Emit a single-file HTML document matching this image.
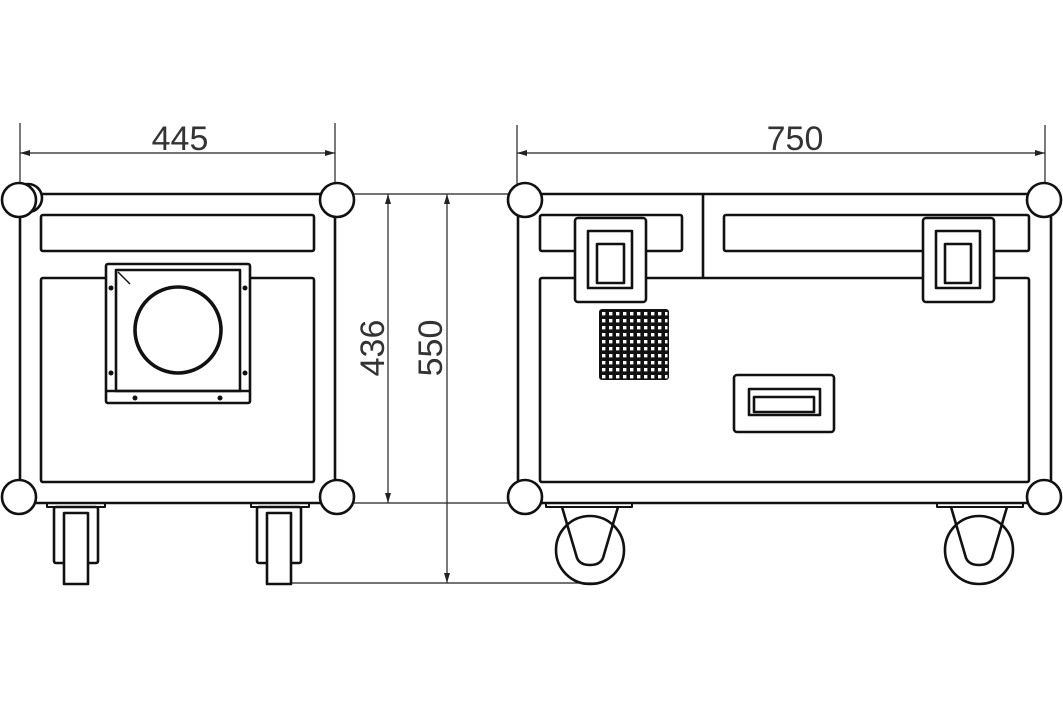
<!DOCTYPE html>
<html><head><meta charset="utf-8"><style>html,body{margin:0;padding:0;background:#fff}svg{display:block}</style></head>
<body>
<svg width="1063" height="708" viewBox="0 0 1063 708" xmlns="http://www.w3.org/2000/svg">
<defs>
<marker id="a" viewBox="0 0 10 6" refX="10" refY="3" markerWidth="10" markerHeight="6" orient="auto-start-reverse" markerUnits="userSpaceOnUse"><path d="M0,0 L10,3 L0,6z" fill="#222"/></marker>
</defs>
<g fill="none" stroke="#222" stroke-width="1.2">
<line x1="20" y1="123" x2="20" y2="190"/><line x1="335" y1="123" x2="335" y2="190"/>
<line x1="517" y1="125" x2="517" y2="190"/><line x1="1045" y1="125" x2="1045" y2="190"/>
<line x1="20" y1="153" x2="335" y2="153" marker-start="url(#a)" marker-end="url(#a)"/>
<line x1="517" y1="153" x2="1045" y2="153" marker-start="url(#a)" marker-end="url(#a)"/>
<line x1="327" y1="194" x2="520" y2="194"/><line x1="327" y1="503" x2="520" y2="503"/>
<line x1="290" y1="583" x2="600" y2="583"/>
<line x1="388" y1="194" x2="388" y2="503" marker-start="url(#a)" marker-end="url(#a)"/>
<line x1="447" y1="194" x2="447" y2="583" marker-start="url(#a)" marker-end="url(#a)"/>
</g>
<g font-family="Liberation Sans, sans-serif" font-size="34" fill="#333" text-anchor="middle">
<text x="180" y="150">445</text>
<text x="795" y="150">750</text>
<text transform="translate(384,348) rotate(-90)">436</text>
<text transform="translate(442,348) rotate(-90)">550</text>
</g>
<g fill="none" stroke="#111" stroke-width="2.6" stroke-linejoin="round">
<rect x="20" y="194" width="315" height="309"/>
<rect x="41" y="215" width="273" height="36" rx="2"/>
<rect x="41" y="278" width="273" height="204" rx="2"/>
<rect x="106" y="264" width="144" height="139" rx="2" fill="#fff"/>
<rect x="116" y="270" width="124" height="121"/>
<line x1="106" y1="391" x2="250" y2="391"/>
<line x1="118" y1="272" x2="130" y2="284" stroke-width="1.5"/>
<circle cx="178" cy="330" r="43" stroke-width="3.6"/>
<circle cx="28" cy="198" r="14" fill="#fff"/>
<circle cx="19" cy="200" r="17" fill="#fff"/>
<circle cx="337" cy="200" r="17" fill="#fff"/>
<circle cx="19" cy="497" r="17" fill="#fff"/>
<circle cx="337" cy="497" r="17" fill="#fff"/>
<rect x="47" y="503" width="58" height="4" stroke-width="2"/>
<rect x="54" y="507" width="44" height="56" rx="2"/>
<rect x="64" y="513" width="24" height="71" fill="#fff"/>
<rect x="251" y="503" width="58" height="4" stroke-width="2"/>
<rect x="257" y="507" width="44" height="56" rx="2"/>
<rect x="267" y="513" width="24" height="71" fill="#fff"/>
<rect x="518" y="194" width="533" height="309"/>
<line x1="703" y1="194" x2="703" y2="278"/>
<rect x="540" y="215" width="142" height="36" rx="2"/>
<rect x="724" y="215" width="305" height="36" rx="2"/>
<rect x="540" y="278" width="489" height="204" rx="2"/>
<rect x="575" y="218" width="71" height="84" rx="3" fill="#fff"/>
<rect x="588" y="231" width="44" height="57"/>
<rect x="597" y="244" width="27" height="39"/>
<rect x="923" y="218" width="71" height="84" rx="3" fill="#fff"/>
<rect x="936" y="231" width="44" height="57"/>
<rect x="945" y="244" width="26" height="39"/>
<rect x="734" y="375" width="100" height="57" rx="3"/>
<rect x="749" y="389" width="71" height="26"/>
<rect x="754" y="397" width="60" height="15"/>
<circle cx="525" cy="200" r="17" fill="#fff"/>
<circle cx="1044" cy="200" r="17" fill="#fff"/>
<circle cx="525" cy="497" r="17" fill="#fff"/>
<circle cx="1044" cy="497" r="17" fill="#fff"/>
<rect x="546" y="503" width="86" height="4" stroke-width="2"/>
<rect x="937" y="503" width="86" height="4" stroke-width="2"/>
<circle cx="590" cy="550" r="34"/>
<path d="M562,507 L577,558 Q580,565 590,565 Q600,565 603,558 L618,507"/>
<circle cx="979" cy="550" r="34"/>
<path d="M951,507 L966,558 Q969,565 979,565 Q989,565 992,558 L1007,507"/>
</g>
<g fill="#111">
<circle cx="111" cy="288" r="2.5"/><circle cx="245" cy="288" r="2.5"/>
<circle cx="111" cy="373" r="2.5"/><circle cx="245" cy="373" r="2.5"/>
<circle cx="135" cy="398" r="2.5"/><circle cx="220" cy="398" r="2.5"/>
</g>
<rect x="599" y="309" width="70" height="71" rx="3" fill="#111"/>
<g fill="#fff" id="g">
<rect x="602" y="312" width="3.4" height="3.4"/><rect x="609" y="312" width="3.4" height="3.4"/><rect x="616" y="312" width="3.4" height="3.4"/><rect x="623" y="312" width="3.4" height="3.4"/><rect x="630" y="312" width="3.4" height="3.4"/><rect x="637" y="312" width="3.4" height="3.4"/><rect x="644" y="312" width="3.4" height="3.4"/><rect x="651" y="312" width="3.4" height="3.4"/><rect x="658" y="312" width="3.4" height="3.4"/><rect x="665" y="312" width="2.5" height="3.4"/>
</g>
<use href="#g" y="7"/><use href="#g" y="14"/><use href="#g" y="21"/><use href="#g" y="28"/><use href="#g" y="35"/><use href="#g" y="42"/><use href="#g" y="49"/><use href="#g" y="56"/><use href="#g" y="63"/>
</svg>
</body></html>
